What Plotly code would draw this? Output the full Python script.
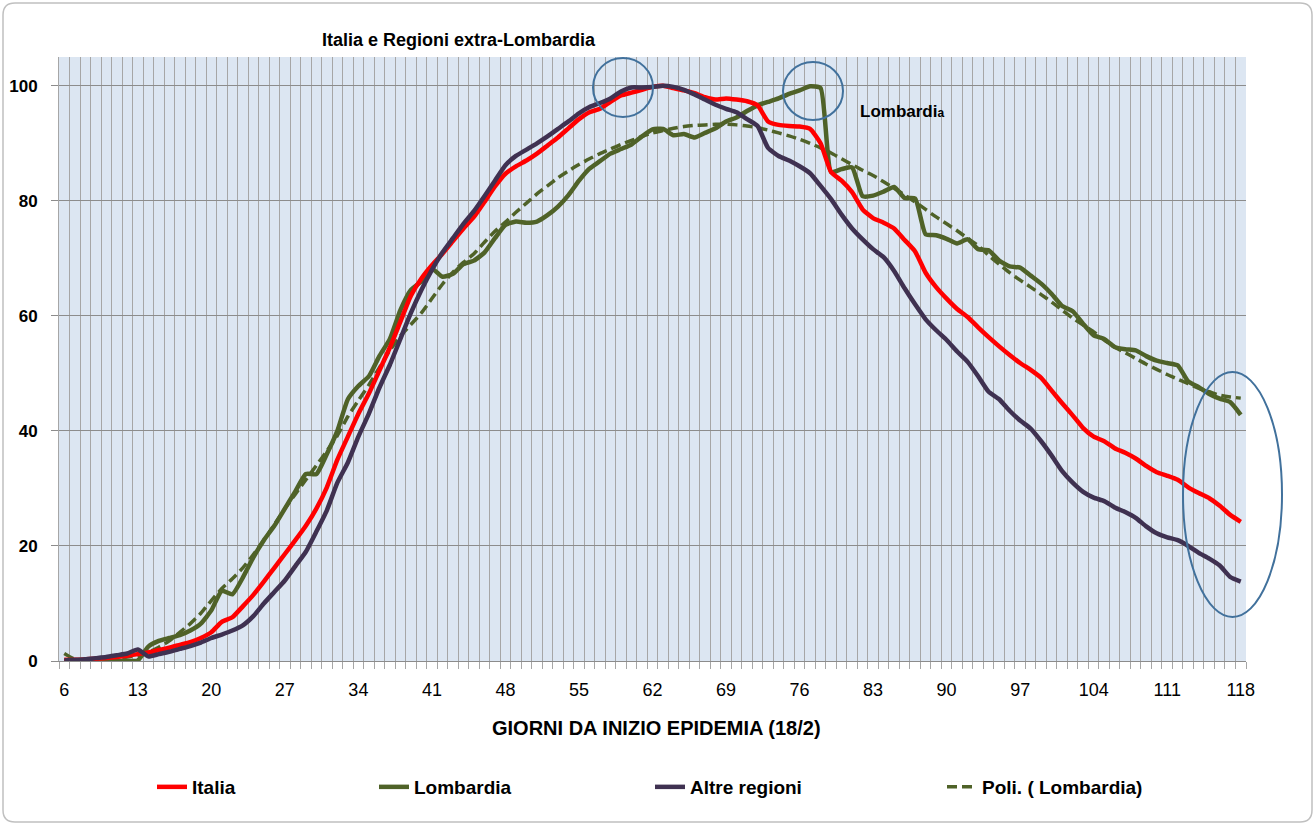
import plotly.graph_objects as go

days = list(range(6, 119))
tick_days = [6, 13, 20, 27, 34, 41, 48, 55, 62, 69, 76, 83, 90, 97, 104, 111, 118]
y_ticks = [0, 20, 40, 60, 80, 100]

italia = [0.2, 0.2, 0.3, 0.4, 0.5, 0.7, 0.9, 1.2, 1.5, 1.9, 2.3, 2.8, 3.3, 4.0, 5.0,
          6.8, 7.6, 9.5, 11.5, 13.8, 16.2, 18.6, 21.0, 23.5, 26.5, 30.2, 35.0, 39.0, 43.0, 46.5,
          50.5, 54.5, 59.0, 63.5, 66.5, 68.8, 70.8, 73.0, 75.2, 77.2, 79.8, 82.5, 84.7, 86.0, 87.0,
          88.2, 89.6, 91.0, 92.6, 94.2, 95.4, 96.0, 97.2, 98.3, 98.8, 99.3, 99.8, 100.0, 99.6, 99.2,
          98.7, 98.0, 97.6, 97.8, 97.6, 97.3, 96.6, 93.8, 93.2, 93.0, 92.9, 92.5, 90.0, 85.0, 83.5,
          81.5, 78.5, 77.0, 76.2, 75.2, 73.2, 71.2, 67.5, 65.0, 63.0, 61.2, 59.8, 58.0, 56.3, 54.7,
          53.2, 51.8, 50.6, 49.2, 47.0, 44.8, 42.7, 40.5, 39.0, 38.2, 37.0, 36.2, 35.2, 33.9, 32.8,
          32.2, 31.5, 30.2, 29.2, 28.3, 27.0, 25.4, 24.2]

lombardia = [0.0, 0.0, 0.0, 0.0, 0.0, 0.0, 0.0, 0.1, 2.5, 3.5, 4.0, 4.5, 5.3, 6.5, 8.8,
             12.2, 11.6, 14.5, 18.0, 21.0, 23.5, 26.5, 29.5, 32.5, 32.5, 36.0, 40.0, 45.5, 47.8, 49.5,
             53.0, 56.0, 61.0, 64.5, 66.0, 68.2, 66.8, 67.3, 69.0, 69.6, 71.0, 73.5, 75.8, 76.4, 76.2,
             76.4, 77.5, 79.0, 81.0, 83.5, 85.6, 86.9, 88.2, 89.0, 89.8, 91.2, 92.4, 92.5, 91.4, 91.6,
             91.0, 91.8, 92.6, 93.8, 94.5, 95.6, 96.6, 97.2, 97.8, 98.6, 99.2, 99.9, 99.6, 85.0, 85.5,
             85.8, 80.8, 80.9, 81.6, 82.4, 80.5, 80.4, 74.2, 74.0, 73.4, 72.6, 73.3, 71.6, 71.4, 69.6,
             68.6, 68.4, 67.0, 65.6, 63.8, 61.7, 60.8, 58.6, 56.6, 56.0, 54.6, 54.2, 54.0, 53.0, 52.2,
             51.8, 51.4, 48.6, 47.6, 46.4, 45.6, 45.0, 42.8]

altre = [0.1, 0.2, 0.3, 0.5, 0.7, 1.0, 1.3, 2.0, 0.8, 1.2, 1.6, 2.1, 2.6, 3.2, 4.0,
         4.6, 5.3, 6.2, 7.8, 10.0, 12.0, 14.0, 16.5, 19.0, 22.5, 26.2, 31.0, 34.5, 39.0, 43.0,
         47.5, 51.5, 56.0, 60.5, 64.5, 68.0, 71.0, 73.5, 76.0, 78.2, 80.8, 83.5, 86.2, 87.8, 88.9,
         90.0, 91.2, 92.5, 93.8, 95.2, 96.3, 97.0, 97.8, 99.0, 99.7, 99.7, 99.8, 100.0, 99.8, 99.3,
         98.5, 97.6, 96.7, 96.0, 95.4, 94.2, 93.0, 89.2, 87.8, 87.0, 86.0, 84.8, 82.6, 80.3, 77.6,
         75.2, 73.3, 71.6, 70.2, 67.8, 64.8, 62.0, 59.4, 57.5, 55.8, 53.8, 52.0, 49.5, 46.8, 45.5,
         43.5, 41.8, 40.4, 38.2, 35.7, 33.0, 31.0, 29.4, 28.4, 27.8, 26.7, 25.9, 24.9, 23.4, 22.2,
         21.5, 21.0, 20.0, 18.8, 17.8, 16.6, 14.6, 13.8]

poli_lombardia = [1.3, 0.3, 0.0, 0.0, 0.2, 0.4, 0.7, 1.0, 1.5, 2.4, 3.5, 5.0, 6.5, 8.3, 10.5,
                  12.6, 14.3, 16.2, 18.5, 21.0, 23.7, 26.5, 29.0, 31.5, 34.0, 36.5, 39.2, 42.5, 45.3, 48.0,
                  51.0, 54.0, 56.5, 58.5, 60.5, 63.0, 65.5, 67.6, 69.3, 70.8, 72.8, 74.7, 76.3, 78.0, 79.6,
                  81.2, 82.6, 84.0, 85.2, 86.3, 87.3, 88.2, 89.0, 89.8, 90.5, 91.2, 91.8, 92.2, 92.6, 92.9,
                  93.1, 93.2, 93.3, 93.3, 93.2, 93.0, 92.7, 92.3, 91.8, 91.3, 90.7, 90.0, 89.2, 88.3, 87.3,
                  86.3, 85.3, 84.4, 83.3, 82.2, 81.0, 79.8, 78.5, 77.2, 76.0, 74.8, 73.5, 72.2, 70.5, 69.0,
                  67.5, 66.2, 65.0, 63.7, 62.4, 61.0, 59.6, 58.4, 57.2, 55.8, 54.6, 53.6, 52.6, 51.6, 50.7,
                  49.8, 49.0, 48.2, 47.4, 46.8, 46.2, 45.9, 45.7]

RED = "#ff0000"
GREEN = "#4f6228"
PURPLE = "#3f3151"
FONT = "Liberation Sans, Arial, sans-serif"

fig = go.Figure()
fig.add_trace(go.Scatter(x=days, y=poli_lombardia, name="Poli. ( Lombardia)", mode="lines",
                         line=dict(color=GREEN, width=3.5, dash="10px,5px", shape="spline", smoothing=0.6),
                         legend="legend4"))
fig.add_trace(go.Scatter(x=days, y=lombardia, name="Lombardia", mode="lines",
                         line=dict(color=GREEN, width=4.5, shape="spline", smoothing=0.5),
                         legend="legend2"))
fig.add_trace(go.Scatter(x=days, y=italia, name="Italia", mode="lines",
                         line=dict(color=RED, width=4.5, shape="spline", smoothing=0.5),
                         legend="legend"))
fig.add_trace(go.Scatter(x=days, y=altre, name="Altre regioni", mode="lines",
                         line=dict(color=PURPLE, width=4.5, shape="spline", smoothing=0.5),
                         legend="legend3"))

ml, mr, mt, mb = 59, 69, 57, 164
pw = 1315 - ml - mr
ph = 825 - mt - mb


def px2paper_x(px):
    return (px - ml) / pw


def py2paper_y(py):
    return (825 - mb - py) / ph


leg_common = dict(y=py2paper_y(787), yanchor="middle", xanchor="left", bgcolor="rgba(0,0,0,0)",
                  font=dict(family=FONT, size=19, color="#000000", weight="bold"),
                  borderwidth=0)

# rounded outer border path in paper coords
bx0, bx1 = px2paper_x(3), px2paper_x(1312)
by0, by1 = py2paper_y(822), py2paper_y(3)
rx, ry = 12 / pw, 12 / ph
border_path = (f"M{bx0+rx},{by1} L{bx1-rx},{by1} Q{bx1},{by1} {bx1},{by1-ry} "
               f"L{bx1},{by0+ry} Q{bx1},{by0} {bx1-rx},{by0} L{bx0+rx},{by0} "
               f"Q{bx0},{by0} {bx0},{by0+ry} L{bx0},{by1-ry} Q{bx0},{by1} {bx0+rx},{by1} Z")

ELL = "#41719c"
shapes = [
    dict(type="path", xref="paper", yref="paper", path=border_path,
         line=dict(color="#c0c0c0", width=1.5), layer="below"),
    dict(type="circle", xref="paper", yref="paper",
         x0=px2paper_x(593), x1=px2paper_x(653), y0=py2paper_y(117), y1=py2paper_y(58),
         line=dict(color=ELL, width=2)),
    dict(type="circle", xref="paper", yref="paper",
         x0=px2paper_x(783), x1=px2paper_x(843), y0=py2paper_y(120), y1=py2paper_y(62),
         line=dict(color=ELL, width=2)),
    dict(type="circle", xref="paper", yref="paper",
         x0=px2paper_x(1183), x1=px2paper_x(1282), y0=py2paper_y(617), y1=py2paper_y(372),
         line=dict(color=ELL, width=2)),
]

annotations = [
    dict(text="Italia e Regioni extra-Lombardia", xref="paper", yref="paper",
         x=px2paper_x(459), y=py2paper_y(40), xanchor="center", yanchor="middle", showarrow=False,
         font=dict(family=FONT, size=18, color="#000000", weight="bold")),
    dict(text="Lombardi<span style='font-size:12px'>a</span>", xref="paper", yref="paper",
         x=px2paper_x(858), y=py2paper_y(112), xanchor="left", yanchor="middle", showarrow=False,
         font=dict(family=FONT, size=17, color="#000000", weight="bold")),
    dict(text="GIORNI DA INIZIO EPIDEMIA (18/2)", xref="paper", yref="paper",
         x=px2paper_x(657), y=py2paper_y(728), xanchor="center", yanchor="middle", showarrow=False,
         font=dict(family=FONT, size=20, color="#000000", weight="bold")),
]

fig.update_layout(
    width=1315, height=825,
    margin=dict(l=ml, r=mr, t=mt, b=mb, autoexpand=False),
    paper_bgcolor="#ffffff",
    plot_bgcolor="#dce6f2",
    showlegend=True,
    legend=dict(x=px2paper_x(152), **leg_common),
    legend2=dict(x=px2paper_x(374), **leg_common),
    legend3=dict(x=px2paper_x(650), **leg_common),
    legend4=dict(x=px2paper_x(942), **leg_common),
    shapes=shapes,
    annotations=annotations,
    xaxis=dict(
        range=[5.5, 118.5], tickmode="array", tickvals=tick_days,
        ticktext=[str(d) for d in tick_days], showgrid=False, zeroline=False,
        ticks="", ticklabelstandoff=12,
        tickfont=dict(family=FONT, size=18, color="#000000"),
        showline=True, linecolor="#8c8c8c", linewidth=1,
        minor=dict(tickmode="linear", tick0=5.5, dtick=1, showgrid=True, gridcolor="#a6a6a6",
                   gridwidth=1, ticks="outside", ticklen=7, tickcolor="#a6a6a6"),
    ),
    yaxis=dict(
        range=[0, 105], tickmode="array", tickvals=y_ticks, showgrid=True, gridcolor="#8c8c8c",
        gridwidth=1, zeroline=False, ticks="outside", ticklen=7, tickcolor="#8c8c8c",
        showline=True, linecolor="#a6a6a6", linewidth=1, ticklabelstandoff=10,
        tickfont=dict(family=FONT, size=17, color="#000000", weight="bold"),
    ),
)

fig.write_html("out.html", config={"displayModeBar": False},
               post_script="document.body.style.margin='0';")
